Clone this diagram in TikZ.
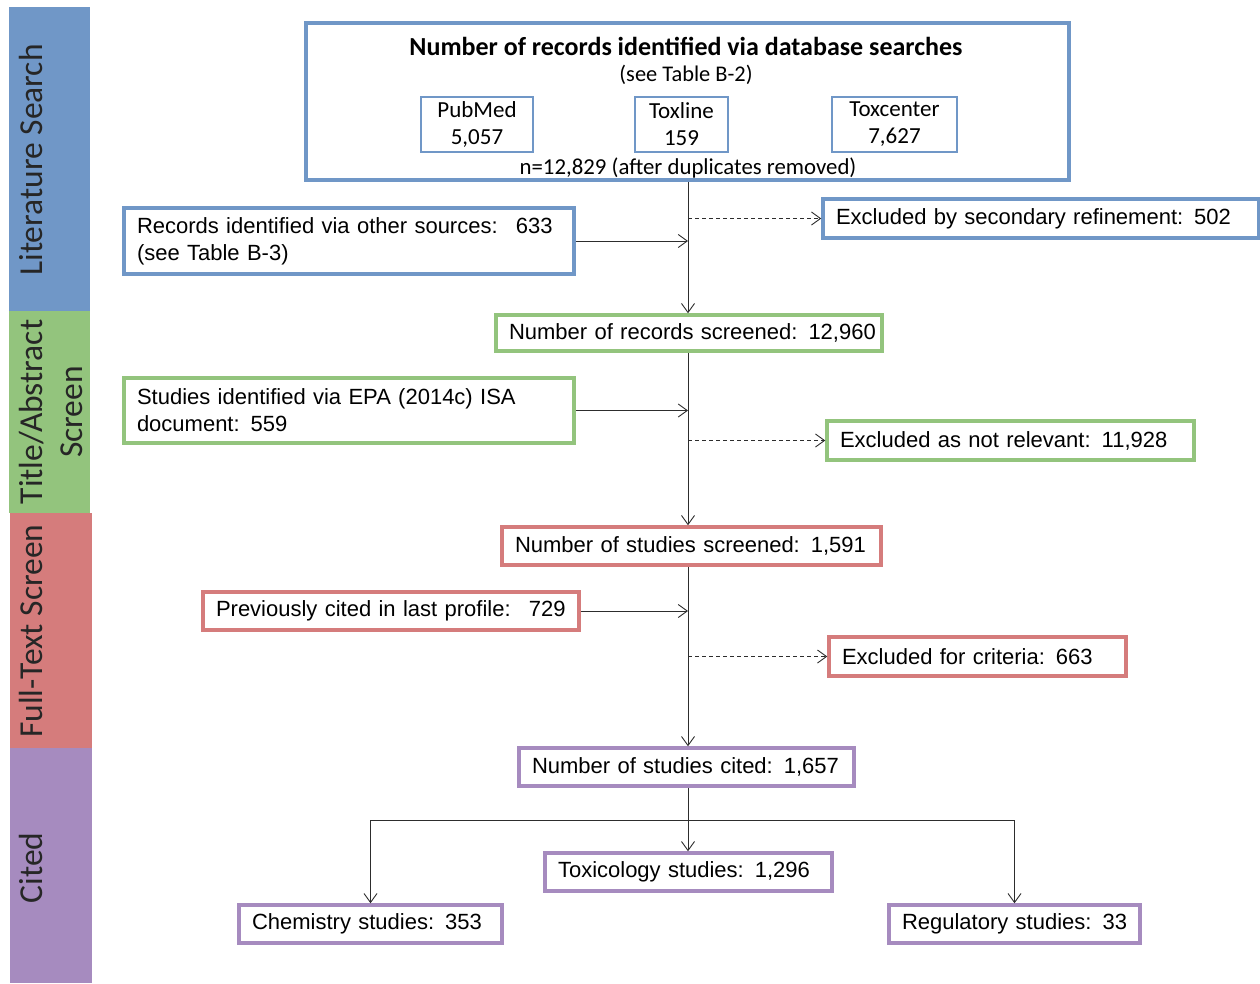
\documentclass[tikz,border=0pt]{standalone}
\usepackage{fontspec}
\setmainfont{Liberation Sans}
\newfontfamily\calib{Carlito}
\usetikzlibrary{arrows.meta}
\definecolor{cblue}{RGB}{112,151,199}
\definecolor{cgreen}{RGB}{147,196,125}
\definecolor{cred}{RGB}{213,124,124}
\definecolor{cpurple}{RGB}{166,139,191}
\definecolor{cline}{RGB}{45,45,45}
\begin{document}
\begin{tikzpicture}[x=1pt,y=-1pt,
  box/.style={draw, line width=3.5pt, fill=white, inner xsep=13pt, inner ysep=0pt,
    font=\fontsize{22}{27}\selectfont, align=left},
  sub/.style={draw=cblue, line width=1.2pt, inner sep=0pt,
    font=\calib\fontsize{23}{27}\selectfont, align=center, minimum height=55pt},
  conn/.style={draw=cline, line width=0.9pt},
  arr/.style={conn, -{Straight Barb[length=9pt,width=13pt]}},
  dasharr/.style={arr, dash pattern=on 4pt off 3pt},
  bandtext/.style={font=\calib\fontsize{33.5}{40}\selectfont, rotate=90, align=center, text=black!85}
]
\useasboundingbox (0,0) rectangle (1260,983);
\fill[white] (0,0) rectangle (1260,983);

% side bands
\fill[cblue]   (9,7)    rectangle (90,311);
\fill[cgreen]  (9,311)  rectangle (90,513);
\fill[cred]    (10,513) rectangle (92,748);
\fill[cpurple] (10,748) rectangle (92,983);
\node[bandtext] (bl) at (31,160) {Literature Search};
\node[bandtext] (bg) at (51,412) {Title/Abstract\\Screen};
\node[bandtext] (br) at (31,631) {Full-Text Screen};
\node[bandtext] (bp) at (31,868) {Cited};

% top box
\node[draw=cblue, line width=4pt, minimum width=763pt, minimum height=157pt, inner sep=0pt] (top) at (687.5,101.5) {};
\node[font=\calib\bfseries\fontsize{26}{30}\selectfont] (ttl) at (686,46) {Number of records identified via database searches};
\node[font=\calib\fontsize{22.4}{26}\selectfont] (see) at (686,75) {(see Table B-2)};
\node[sub, minimum width=112pt] (pm) at (477,124.5) {PubMed\\5,057};
\node[sub, minimum width=93pt] (tl) at (681.5,124.5) {Toxline\\159};
\node[sub, minimum width=125pt] (tc) at (894.5,124.5) {Toxcenter\\7,627};
\node[font=\calib\fontsize{22.8}{26}\selectfont] (dup) at (688,168) {n=12,829 (after duplicates removed)};

% boxes
\node[box, draw=cblue, minimum width=450pt, minimum height=66pt, text width=424pt] (oth) at (349,241)
  {Records identified via other sources:~ 633\\(see Table B-3)};
\node[box, draw=cblue, minimum width=436pt, minimum height=39pt, text width=410pt] (ex1) at (1041,218.5)
  {\mbox{Excluded by secondary refinement: 502}};
\node[box, draw=cgreen, minimum width=386pt, minimum height=36pt, text width=360pt] (scr) at (689,333)
  {\mbox{Number of records screened: 12,960}};
\node[box, draw=cgreen, minimum width=450pt, minimum height=65pt, text width=424pt] (epa) at (349,410.5)
  {Studies identified via EPA (2014c) ISA\\document: 559};
\node[box, draw=cgreen, minimum width=367pt, minimum height=39pt, text width=341pt] (ex2) at (1010.5,440.5)
  {\mbox{Excluded as not relevant: 11,928}};
\node[box, draw=cred, minimum width=379pt, minimum height=38pt, text width=353pt] (sts) at (691.5,546)
  {\mbox{Number of studies screened: 1,591}};
\node[box, draw=cred, minimum width=376pt, minimum height=38pt, text width=350pt] (prv) at (391,611)
  {\mbox{Previously cited in last profile:~ 729}};
\node[box, draw=cred, minimum width=297pt, minimum height=39pt, text width=271pt] (ex3) at (977.5,656.5)
  {\mbox{Excluded for criteria: 663}};
\node[box, draw=cpurple, minimum width=335pt, minimum height=38pt, text width=309pt] (cit) at (686.5,767)
  {\mbox{Number of studies cited: 1,657}};
\node[box, draw=cpurple, minimum width=287pt, minimum height=38pt, text width=261pt] (tox) at (688.5,872)
  {\mbox{Toxicology studies: 1,296}};
\node[box, draw=cpurple, minimum width=263pt, minimum height=38pt, text width=237pt] (che) at (370.5,924)
  {\mbox{Chemistry studies: 353}};
\node[box, draw=cpurple, minimum width=251pt, minimum height=38pt, text width=225pt] (reg) at (1014.5,924)
  {\mbox{Regulatory studies: 33}};

% connectors
\coordinate (mx) at (688,0);
\draw[arr] (top.south -| mx) -- (scr.north -| mx);
\draw[arr] (oth.east) -- (oth.east -| mx);
\draw[dasharr] (ex1.west -| mx) -- (ex1.west);
\draw[arr] (scr.south -| mx) -- (sts.north -| mx);
\draw[arr] (epa.east) -- (epa.east -| mx);
\draw[dasharr] (ex2.west -| mx) -- (ex2.west);
\draw[arr] (sts.south -| mx) -- (cit.north -| mx);
\draw[arr] (prv.east) -- (prv.east -| mx);
\draw[dasharr] (ex3.west -| mx) -- (ex3.west);
\draw[arr] (cit.south -| mx) -- (tox.north -| mx);
\coordinate (sp) at (688,820);
\draw[conn] (sp -| che.north) -- (sp -| reg.north);
\draw[arr] (sp -| che.north) -- (che.north);
\draw[arr] (sp -| reg.north) -- (reg.north);
\end{tikzpicture}
\end{document}
